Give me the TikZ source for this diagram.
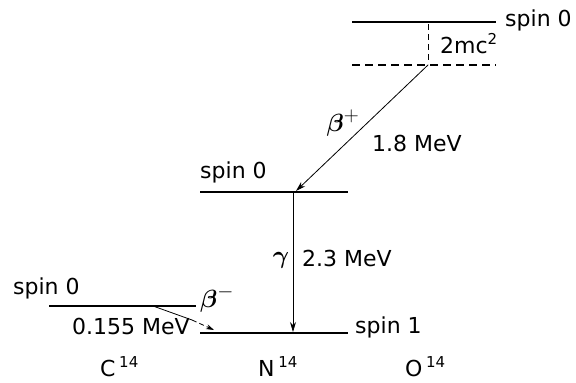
\documentclass[tikz,border=0pt]{standalone}
\usepackage{amsmath}
\usepackage{fontspec}
\setmainfont{DejaVu Sans}
\usetikzlibrary{arrows.meta}
\newcommand{\supr}[1]{\,\raisebox{9pt}{\fontsize{15}{15}\selectfont #1}}
\begin{document}
\begin{tikzpicture}[x=1pt,y=-1pt,
  level/.style={line width=2.2pt},
  lbl/.style={font=\fontsize{22}{26}\selectfont, inner sep=0pt},
  grk/.style={font=\fontsize{28}{30}\selectfont, inner sep=0pt},
  arr/.style={line width=0.8pt, -{Stealth[length=10pt,width=6pt]}}]
\useasboundingbox (0,0) rectangle (576,383);
% levels
\coordinate (oa) at (352,22); \coordinate (ob) at (496,22);
\draw[line width=1.8pt] (oa) -- (ob);
\coordinate (da) at (352,65); \coordinate (db) at (496,65);
\draw[line width=1.4pt, dash pattern=on 8pt off 5pt] (da) -- (db);
\coordinate (ea) at (200,192); \coordinate (eb) at (348,192);
\draw[level] (ea) -- (eb);
\coordinate (ga) at (200,333); \coordinate (gb) at (348,333);
\draw[level] (ga) -- (gb);
\coordinate (ca) at (49,306); \coordinate (cb) at (196,306);
\draw[line width=1.8pt] (ca) -- (cb);
% transitions
\coordinate (dt) at (428,24); \coordinate (db2) at (428,64);
\draw[line width=0.8pt, dash pattern=on 6pt off 4pt] (dt) -- (db2);
\coordinate (bp) at (428,65); \coordinate (bpe) at (296,191);
\draw[arr] (bp) -- (bpe);
\coordinate (gt) at (293,192); \coordinate (ge) at (293,332);
\draw[arr] (gt) -- (ge);
\coordinate (bm) at (153,306); \coordinate (bmm) at (192,320); \coordinate (bme) at (214,330);
\draw[line width=0.8pt] (bm) -- (bmm);
\draw[line width=0.8pt, dash pattern=on 5pt off 3pt, -{Stealth[length=8pt,width=5pt]}] (bmm) -- (bme);
% labels
\node[lbl, anchor=west] (s1) at (505,20) {spin 0};
\node[lbl, anchor=west] (mc) at (440,44) {2mc\raisebox{9pt}{\fontsize{15}{15}\selectfont 2}};
\node[grk] (bplus) at (343,123) {$\boldsymbol{\beta}^{+}$};
\node[lbl, anchor=west] (e1) at (372,143) {1.8 MeV};
\node[lbl, anchor=west] (s2) at (200,172) {spin 0};
\node[grk] (gam) at (281,260) {$\boldsymbol{\gamma}$};
\node[lbl, anchor=west] (e2) at (302,258) {2.3 MeV};
\node[lbl, anchor=west] (s3) at (355,327) {spin 1};
\node[lbl, anchor=west] (s4) at (13,288) {spin 0};
\node[grk] (bminus) at (217,299) {$\boldsymbol{\beta}^{-}$};
\node[lbl, anchor=west] (e3) at (72,326) {0.155 MeV};
\node[lbl, anchor=west] (c14) at (100,367) {C\supr{14}};
\node[lbl, anchor=west] (n14) at (258,367) {N\supr{14}};
\node[lbl, anchor=west] (o14) at (405,367) {O\supr{14}};
\end{tikzpicture}
\end{document}
